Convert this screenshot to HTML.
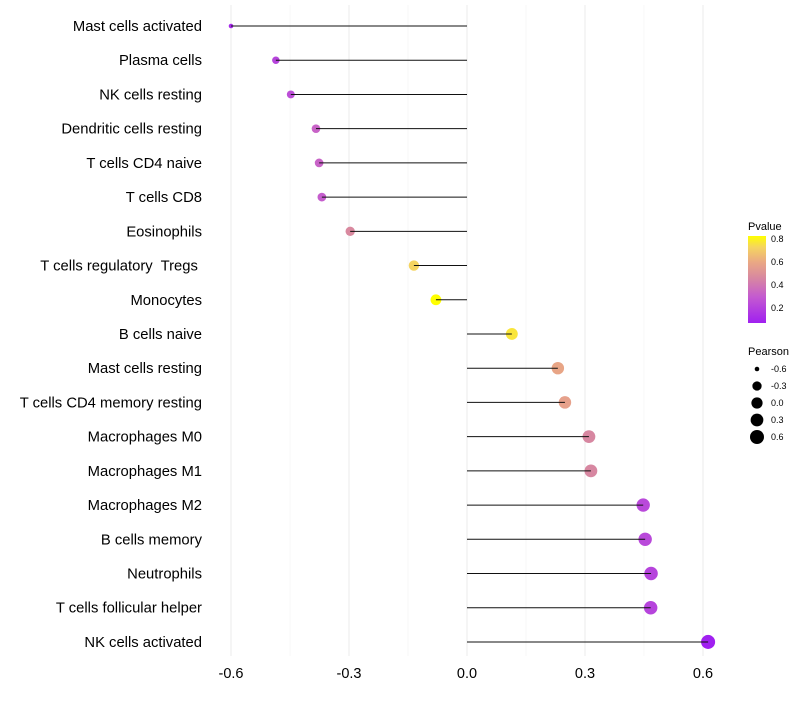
<!DOCTYPE html>
<html><head><meta charset="utf-8"><style>
body{margin:0;background:#fff}
svg{font-family:"Liberation Sans",Arial,sans-serif}
</style></head><body>
<svg id="chart" width="800" height="700">
<defs><linearGradient id="pgrad" x1="0" y1="1" x2="0" y2="0">
<stop offset="0" stop-color="#a020f0"/><stop offset="0.3" stop-color="#c45ad0"/><stop offset="0.52" stop-color="#d888a0"/><stop offset="0.7" stop-color="#eaa884"/><stop offset="0.87" stop-color="#f5d460"/><stop offset="1" stop-color="#ffff00"/>
</linearGradient></defs>
<g id="grid"></g><g id="dots"></g><g id="marks"></g><g id="labels"></g>
<g>
<text x="748" y="230" font-size="11">Pvalue</text>
<rect x="748" y="236" width="18" height="87" fill="url(#pgrad)"/>
<text x="771" y="242" font-size="9">0.8</text>
<text x="771" y="265" font-size="9">0.6</text>
<text x="771" y="288" font-size="9">0.4</text>
<text x="771" y="311" font-size="9">0.2</text>
</g>
<g id="sizeLegend">
<text x="748" y="355" font-size="11">Pearson</text>
</g>
</svg>
<script>
const categories=["Mast cells activated","Plasma cells","NK cells resting","Dendritic cells resting","T cells CD4 naive","T cells CD8","Eosinophils","T cells regulatory  Tregs ","Monocytes","B cells naive","Mast cells resting","T cells CD4 memory resting","Macrophages M0","Macrophages M1","Macrophages M2","B cells memory","Neutrophils","T cells follicular helper","NK cells activated"];
const pearson=[-0.600,-0.486,-0.448,-0.384,-0.376,-0.369,-0.297,-0.135,-0.079,0.114,0.231,0.249,0.310,0.315,0.448,0.453,0.468,0.467,0.613];
const pvalues=[0.10,0.20,0.24,0.32,0.32,0.30,0.46,0.72,0.82,0.76,0.58,0.56,0.45,0.45,0.22,0.22,0.20,0.20,0.06];
const xTicks=[-0.6,-0.3,0.0,0.3,0.6];
const xTickLabels=["-0.6","-0.3","0.0","0.3","0.6"];
const sizeLegendVals=[-0.6,-0.3,0.0,0.3,0.6];

const NS="http://www.w3.org/2000/svg";
const x=v=>467+v*393.3;
const y=i=>26+i*34.22;
const pMin=0.06,pMax=0.82;
const stops=[[0,[160,32,240]],[0.3,[196,90,208]],[0.52,[216,136,160]],[0.7,[234,168,132]],[0.87,[245,212,96]],[1,[255,255,0]]];
function color(p){
  let t=Math.max(0,Math.min(1,(p-pMin)/(pMax-pMin)));
  for(let k=1;k<stops.length;k++){
    if(t<=stops[k][0]){const a=stops[k-1],b=stops[k];const u=(t-a[0])/(b[0]-a[0]);
      return 'rgb('+a[1].map((c,j)=>Math.round(c+(b[1][j]-c)*u)).join(',')+')';}
  }
  return 'rgb(255,255,0)';
}
const rad=v=>2.3+4.7*Math.sqrt(Math.max(0,(v+0.6)/1.2));
function mk(tag,attrs,parent){const e=document.createElementNS(NS,tag);for(const k in attrs)e.setAttribute(k,attrs[k]);parent.appendChild(e);return e;}
const grid=document.getElementById('grid'),marks=document.getElementById('marks'),dots=document.getElementById('dots'),labels=document.getElementById('labels');
[-0.45,-0.15,0.15,0.45].forEach(v=>{
  const l=mk('line',{x1:x(v),x2:x(v),y1:5,y2:656,stroke:'#f2f2f2','stroke-width':0.6},grid);
  
  
});
xTicks.forEach((v,i)=>{
  const l=mk('line',{x1:x(v),x2:x(v),y1:5,y2:656,stroke:'#ebebeb','stroke-width':1},grid);
  
  
  const t=mk('text',{x:x(v),y:678,'font-size':14.5,'text-anchor':'middle',fill:'#000'},labels);
  t.textContent=xTickLabels[i];
  
  
});
categories.forEach((c,i)=>{
  const t=mk('text',{x:202,y:y(i)+5,'font-size':14.8,'text-anchor':'end',fill:'#000'},labels);
  t.setAttribute('style','white-space:pre');
  t.textContent=c;
  
  
  const d=mk('circle',{cx:x(pearson[i]),cy:y(i),r:rad(pearson[i]),fill:color(pvalues[i])},dots);
  
  
  const l=mk('line',{x1:x(0),x2:x(pearson[i]),y1:y(i),y2:y(i),stroke:'#111','stroke-width':1},marks);
  
  
});
const sl=document.getElementById('sizeLegend');
sizeLegendVals.forEach((v,i)=>{
  const cy=369+i*17;
  const c=mk('circle',{cx:757,cy:cy,r:rad(v),fill:'#000'},sl);
  
  
  const t=mk('text',{x:771,y:cy+3,'font-size':9},sl);
  t.textContent=v.toFixed(1);
  
  
});
</script>
</body></html>
